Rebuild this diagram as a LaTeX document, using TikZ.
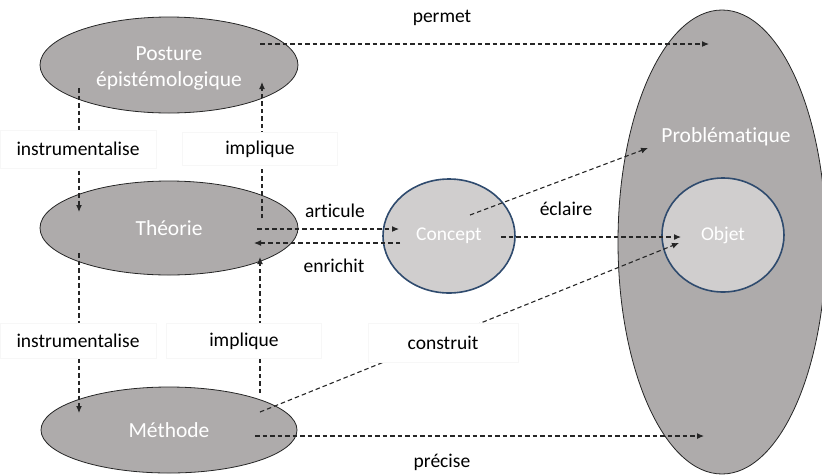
\documentclass[tikz,border=0pt]{standalone}
\usepackage{fontspec}
\setmainfont{Carlito}[Ligatures=NoCommon]
\usetikzlibrary{shapes.geometric,arrows.meta}
\definecolor{darkfill}{HTML}{AEABAB}
\definecolor{lightfill}{HTML}{D0CECE}
\definecolor{blueborder}{HTML}{2F4B6E}
\definecolor{linecol}{HTML}{262626}
\tikzset{
  bigell/.style={ellipse,draw=black!85,line width=0.8pt,fill=darkfill,inner sep=0pt,text=white,align=center,font=\fontsize{21.5}{26}\selectfont},
  smallell/.style={ellipse,draw=blueborder,line width=1.6pt,fill=lightfill,inner sep=0pt,text=white,font=\fontsize{19.5}{24}\selectfont},
  conn/.style={draw=linecol,line width=1.1pt,dash pattern=on 4.5pt off 3pt,-{Latex[length=7pt,width=6pt]}},
  lbl/.style={font=\fontsize{19.5}{24}\selectfont,text=black,inner sep=0pt},
  lblbox/.style={draw=black!3,fill=white,line width=0.5pt,minimum height=36pt,inner sep=0pt,font=\fontsize{19.5}{24}\selectfont},
}
\begin{document}
\begin{tikzpicture}[x=1pt,y=-1pt]
\useasboundingbox (0,0) rectangle (822,475);
% shapes
\node[bigell,minimum width=258pt,minimum height=96pt] (post) at (169,65) {};
\node[lbl,text=white,font=\fontsize{21.5}{26}\selectfont] (posttext) at (169,68) {\begin{tabular}{@{}c@{}}Posture\\[0pt]épistémologique\end{tabular}};
\node[bigell,minimum width=258pt,minimum height=94pt] (theo) at (169,228) {Théorie};
\node[bigell,minimum width=256pt,minimum height=86pt] (meth) at (169,430) {Méthode};
\node[bigell,minimum width=208pt,minimum height=464pt] (prob) at (722,242) {};
\node[lbl,text=white,font=\fontsize{21.5}{26}\selectfont] (probtext) at (726,137) {Problématique};
\node[smallell,minimum width=122pt,minimum height=114pt] (objet) at (723,235) {Objet};
\node[smallell,minimum width=132pt,minimum height=114pt] (concept) at (449,236) {Concept};
% connector end points
\coordinate (i1s) at (79,88);   \coordinate (i1e) at (79,212);
\coordinate (p1s) at (262,218); \coordinate (p1e) at (262,82);
\coordinate (i2s) at (79,253);  \coordinate (i2e) at (79,413);
\coordinate (p2s) at (260,393); \coordinate (p2e) at (260,257);
\coordinate (as) at (257,229);  \coordinate (ae) at (399,229);
\coordinate (es) at (400,243);  \coordinate (ee) at (254,243);
\coordinate (chs) at (501,237); \coordinate (che) at (681,237);
\coordinate (cds) at (470,215); \coordinate (cde) at (648,148);
\coordinate (ms) at (260,412);  \coordinate (me) at (679,243);
\coordinate (ps) at (260,44);   \coordinate (pe) at (709,44);
\coordinate (prs) at (255,436); \coordinate (pre) at (704,436);
% connectors
\draw[conn] (i1s) -- (i1e);
\draw[conn] (p1s) -- (p1e);
\draw[conn] (i2s) -- (i2e);
\draw[conn] (p2s) -- (p2e);
\draw[conn] (as) -- (ae);
\draw[conn] (es) -- (ee);
\draw[conn] (chs) -- (che);
\draw[conn] (cds) -- (cde);
\draw[conn] (ms) -- (me);
\draw[conn] (ps) -- (pe);
\draw[conn] (prs) -- (pre);
% label boxes
\node[lblbox,minimum width=156pt,minimum height=38pt] (l1) at (78,149) {instrumentalise};
\node[lblbox,minimum width=155pt,minimum height=33pt] (l2) at (260,149) {implique};
\node[lblbox,minimum width=156pt,minimum height=35pt] (l3) at (78,341) {instrumentalise};
\node[lblbox,minimum width=155pt,minimum height=35pt] (l4) at (244,341) {implique};
\node[lblbox,minimum width=150pt,minimum height=39pt] (l5) at (443,343) {construit};
\node[lbl] (l6) at (442,18) {permet};
\node[lbl] (l7) at (566,209) {éclaire};
\node[lbl] (l8) at (335,211) {articule};
\node[lbl] (l9) at (334,266) {enrichit};
\node[lbl] (l10) at (442,462) {précise};
\end{tikzpicture}
\end{document}
